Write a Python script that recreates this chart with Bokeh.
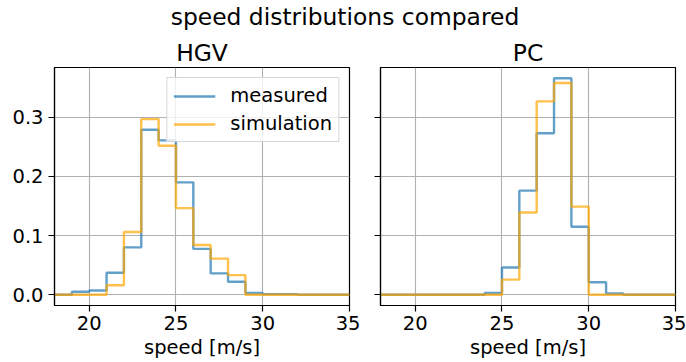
from bokeh.plotting import figure
from bokeh.layouts import column, row
from bokeh.models import Range1d, FixedTicker, Legend, LegendItem, PrintfTickFormatter
from bokeh.core.properties import value
from bokeh.embed import file_html
from bokeh.resources import INLINE

# ---- data (bin edges 18..35, 1 m/s bins; densities) ----
bin_edges = [18, 19, 20, 21, 22, 23, 24, 25, 26, 27, 28, 29, 30, 31, 32, 33, 34, 35]
hgv_measured = [0.0, 0.005, 0.007, 0.037, 0.080, 0.279, 0.261, 0.190, 0.0775, 0.036, 0.022, 0.003, 0.001, 0.001, 0.0, 0.0, 0.0]
hgv_simulation = [0.0, 0.0, 0.0, 0.016, 0.106, 0.297, 0.252, 0.1465, 0.084, 0.061, 0.033, 0.0, 0.0, 0.0, 0.0, 0.0, 0.0]
pc_measured = [0.0, 0.0, 0.0, 0.0, 0.0, 0.0, 0.003, 0.046, 0.176, 0.273, 0.366, 0.115, 0.021, 0.002, 0.0, 0.0, 0.0]
pc_simulation = [0.0, 0.0, 0.0, 0.0, 0.0, 0.0, 0.0, 0.0255, 0.139, 0.327, 0.358, 0.149, 0.0, 0.0, 0.0, 0.0, 0.0]
x_ticks = [20, 25, 30, 35]
y_ticks = [0.0, 0.1, 0.2, 0.3]
panel_titles = ["HGV", "PC"]
series_names = ["measured", "simulation"]
suptitle = "speed distributions compared"
x_label = "speed [m/s]"

FONT = "DejaVu Sans"
C_MEAS = "#1f77b4"
C_SIM = "#ffa500"

ymax_data = max(hgv_measured + hgv_simulation + pc_measured + pc_simulation)
ylo, yhi = -0.05 * ymax_data, 1.05 * ymax_data


def step_xy(edges, vals):
    xs, ys = [edges[0]], [0.0]
    for i, v in enumerate(vals):
        xs += [edges[i], edges[i + 1]]
        ys += [v, v]
    xs.append(edges[-1])
    ys.append(0.0)
    return xs, ys


def make_panel(title, meas, sim, show_ylabels, left_border, right_border, legend):
    p = figure(width=left_border + 295 + right_border, height=328,
               frame_width=295, frame_height=238,
               x_range=Range1d(bin_edges[0], bin_edges[-1]),
               y_range=Range1d(ylo, yhi),
               output_backend="svg", toolbar_location=None,
               min_border_left=left_border, min_border_right=right_border,
               min_border_top=33, min_border_bottom=57)
    p.title.text = title
    p.title.align = "center"
    p.title.text_font = FONT
    p.title.text_font_size = "23.4px"
    p.title.text_font_style = "normal"
    p.title.text_color = "black"
    p.title.standoff = 2

    xm, ym = step_xy(bin_edges, meas)
    xs, ys = step_xy(bin_edges, sim)
    r1 = p.line(xm, ym, line_color=C_MEAS, line_alpha=0.7, line_width=2.4)
    r2 = p.line(xs, ys, line_color=C_SIM, line_alpha=0.7, line_width=2.4)

    p.outline_line_color = "black"
    p.outline_line_width = 1.2
    p.outline_line_alpha = 1

    for ax in (p.xaxis[0], p.yaxis[0]):
        ax.axis_line_color = "black"
        ax.axis_line_width = 1.2
        ax.major_tick_line_color = "black"
        ax.major_tick_line_width = 1.2
        ax.major_tick_out = 6
        ax.major_tick_in = 0
        ax.minor_tick_line_color = None
        ax.major_label_text_font = FONT
        ax.major_label_text_font_size = "19.5px"
        ax.major_label_text_color = "black"
    p.xaxis.ticker = FixedTicker(ticks=x_ticks)
    p.yaxis.ticker = FixedTicker(ticks=y_ticks)
    p.yaxis.formatter = PrintfTickFormatter(format="%.1f")
    p.xaxis.major_label_standoff = 4
    p.yaxis.major_label_standoff = 5
    p.xaxis.axis_label = x_label
    p.xaxis.axis_label_text_font = FONT
    p.xaxis.axis_label_text_font_size = "19.5px"
    p.xaxis.axis_label_text_font_style = "normal"
    p.xaxis.axis_label_text_color = "black"
    p.xaxis.axis_label_standoff = 3
    if not show_ylabels:
        p.yaxis.major_label_overrides = {tk: "" for tk in y_ticks}
        p.yaxis.major_label_standoff = 0

    p.xgrid.ticker = FixedTicker(ticks=x_ticks)
    p.ygrid.ticker = FixedTicker(ticks=y_ticks)
    p.grid.grid_line_color = "#b0b0b0"
    p.grid.grid_line_width = 1.1

    if legend:
        lg = Legend(items=[LegendItem(label=series_names[0], renderers=[r1]),
                           LegendItem(label=series_names[1], renderers=[r2])],
                    location="top_right")
        lg.label_text_font = FONT
        lg.label_text_font_size = "19.5px"
        lg.label_text_color = "black"
        lg.glyph_width = 42
        lg.glyph_height = 18
        lg.label_height = 18
        lg.label_standoff = 15
        lg.spacing = 5
        lg.padding = 6
        lg.margin = 10
        lg.border_line_color = "#cccccc"
        lg.border_line_alpha = 0.8
        lg.background_fill_color = "white"
        lg.background_fill_alpha = 0.8
        p.add_layout(lg)
    return p


p1 = make_panel(panel_titles[0], hgv_measured, hgv_simulation, True, 54, 11, True)
p2 = make_panel(panel_titles[1], pc_measured, pc_simulation, False, 20, 11, False)

t = figure(width=686, height=34, x_range=Range1d(0, 686), y_range=Range1d(0, 34),
           output_backend="svg", toolbar_location=None, min_border=0)
t.title.visible = False
t.axis.visible = False
t.grid.visible = False
t.outline_line_color = None
t.text(x=[344.5], y=[18], text=[suptitle], text_font=value(FONT), text_font_size="23.4px",
       text_align="center", text_baseline="alphabetic", text_color="black")

layout = column(t, row(p1, p2))
open("out.html", "w").write(file_html(layout, INLINE))
